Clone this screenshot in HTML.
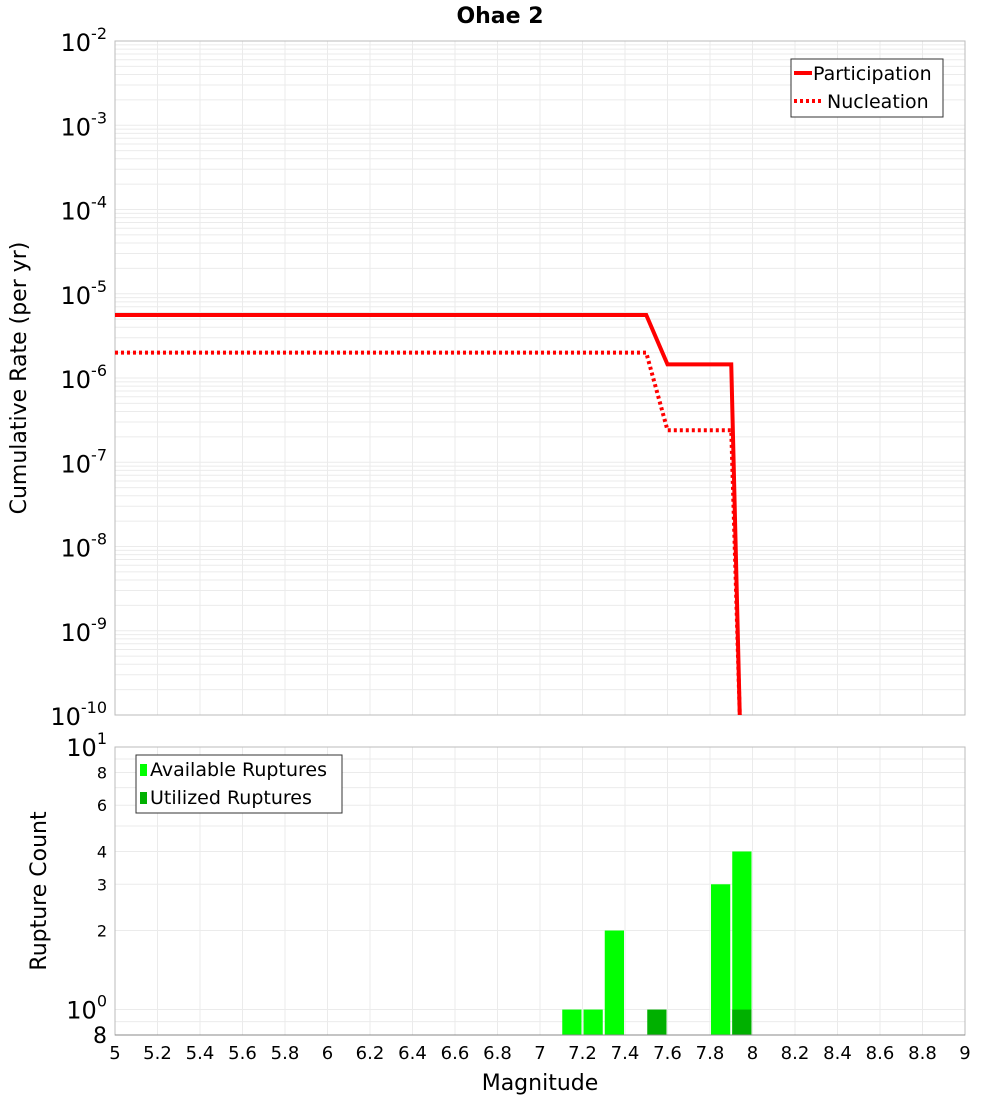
<!DOCTYPE html>
<html><head><meta charset="utf-8"><style>
body{margin:0;background:#fff;font-family:"Liberation Sans","DejaVu Sans",sans-serif}
svg text{font-family:"DejaVu Sans","Liberation Sans",sans-serif}
</style></head><body>
<svg id="c" width="1000" height="1100" xmlns="http://www.w3.org/2000/svg"></svg>
<script>
const partMags=[5.0,7.5,7.6,7.9,7.94];
const partRates=[5.6e-6,5.6e-6,1.45e-6,1.45e-6,1e-10];
const nuclMags=[5.0,7.5,7.6,7.9,7.94];
const nuclRates=[2.0e-6,2.0e-6,2.4e-7,2.4e-7,1e-10];
const binMags=[7.15,7.25,7.35,7.55,7.85,7.95];
const availCounts=[1,1,2,0,3,4];
const usedCounts=[0,0,0,1,0,1];
const xTicks=[5,5.2,5.4,5.6,5.8,6,6.2,6.4,6.6,6.8,7,7.2,7.4,7.6,7.8,8,8.2,8.4,8.6,8.8,9];
const topExps=[-10,-9,-8,-7,-6,-5,-4,-3,-2];
const botTicks=[[10,'10',true],[8,'8'],[6,'6'],[4,'4'],[3,'3'],[2,'2'],[1,'10',true],[0.8,'8']];

const svg=document.getElementById('c');
const NS='http://www.w3.org/2000/svg';
function mk(t,a,p){const e=document.createElementNS(NS,t);for(const k in a)e.setAttribute(k,a[k]);(p||svg).appendChild(e);return e;}
const L=115,R=965,T1=41,B1=715,T2=747,B2=1035;
const xs=m=>L+(m-5)/4*(R-L);
const y1=v=>T1+(-2-Math.log10(v))/8*(B1-T1);
const y2=v=>B2-(Math.log10(v)-Math.log10(0.8))/(1-Math.log10(0.8))*(B2-T2);

let t=mk('text',{x:500,y:23,'text-anchor':'middle','font-size':22,'font-weight':'bold'});
t.textContent='Ohae 2';

// grids top
const g1=mk('g',{stroke:'#ebebeb','stroke-width':1});

for(let e=-10;e<-2;e++)for(let k=1;k<10;k++){const y=y1(k*Math.pow(10,e));mk('line',{x1:L,x2:R,y1:y,y2:y},g1);}
xTicks.forEach(m=>mk('line',{x1:xs(m),x2:xs(m),y1:T1,y2:B1},g1));
let f=mk('rect',{x:L,y:T1,width:R-L,height:B1-T1,fill:'none',stroke:'#bbb'});


// top tick labels
topExps.forEach(e=>{const y=y1(Math.pow(10,e));const tx=mk('text',{x:107,y:y+10,'text-anchor':'end','font-size':24});

tx.innerHTML='10<tspan dy="-12" font-size="16">'+e+'</tspan>';});
t=mk('text',{x:26,y:378,'text-anchor':'middle','font-size':22,transform:'rotate(-90 26 378)'});
t.textContent='Cumulative Rate (per yr)';

function line(ms,vs,dash,name){const p=mk('polyline',{points:ms.map((m,i)=>xs(m)+','+Math.min(B1,y1(vs[i]))).join(' '),fill:'none',stroke:'#ff0000','stroke-width':4});
if(dash)p.setAttribute('stroke-dasharray','3,3');}
line(nuclMags,nuclRates,true,'nucleation-line');
line(partMags,partRates,false,'participation-line');

// legend top
const lg=mk('g',{});
mk('rect',{x:791,y:59,width:152,height:58,fill:'#fff',stroke:'#333'},lg);
mk('line',{x1:794,x2:812,y1:73,y2:73,stroke:'#f00','stroke-width':4},lg);
mk('line',{x1:794,x2:824,y1:101,y2:101,stroke:'#f00','stroke-width':4,'stroke-dasharray':'3,3'},lg);
t=mk('text',{x:813,y:80,'font-size':19},lg);t.textContent='Participation';
t=mk('text',{x:827,y:108,'font-size':19},lg);t.textContent='Nucleation';

// bottom grid
const g2=mk('g',{stroke:'#ebebeb','stroke-width':1});

[0.9,1,2,3,4,5,6,7,8,9].forEach(v=>{const y=y2(v);mk('line',{x1:L,x2:R,y1:y,y2:y},g2);});
xTicks.forEach(m=>mk('line',{x1:xs(m),x2:xs(m),y1:T2,y2:B2},g2));

const w=xs(0.1)-xs(0)-2;
binMags.forEach((m,i)=>{
 if(availCounts[i]>0){const r=mk('rect',{x:xs(m)-w/2,y:y2(availCounts[i]),width:w,height:B2-y2(availCounts[i]),fill:'#00ff00'});
 }
 if(usedCounts[i]>0){const r=mk('rect',{x:xs(m)-w/2,y:y2(usedCounts[i]),width:w,height:B2-y2(usedCounts[i]),fill:'#00b000'});
 }
});
f=mk('rect',{x:L,y:T2,width:R-L,height:B2-T2,fill:'none',stroke:'#bbb'});

mk('line',{x1:L,x2:R,y1:B2,y2:B2,stroke:'#888'});

botTicks.forEach(([v,s,big])=>{const y=y2(v);const tx=mk('text',{x:107,y:y+(big?9:6),'text-anchor':'end','font-size':big?24:16});

if(big)tx.innerHTML=s+'<tspan dy="-12" font-size="16">'+(v==10?1:0)+'</tspan>';else tx.textContent=s;
if(v==0.8){tx.setAttribute('font-size',22);tx.setAttribute('y',y+8);}});
t=mk('text',{x:46,y:891,'text-anchor':'middle','font-size':22,transform:'rotate(-90 46 891)'});
t.textContent='Rupture Count';

xTicks.forEach(m=>{const tx=mk('text',{x:xs(m),y:1059,'text-anchor':'middle','font-size':18});
tx.textContent=String(m);});
t=mk('text',{x:540,y:1090,'text-anchor':'middle','font-size':22});
t.textContent='Magnitude';

const lg2=mk('g',{});
mk('rect',{x:136,y:755,width:206,height:58,fill:'#fff',stroke:'#333'},lg2);
mk('rect',{x:140,y:764,width:7,height:12,fill:'#00ff00'},lg2);
mk('rect',{x:140,y:792,width:7,height:12,fill:'#00b000'},lg2);
t=mk('text',{x:150,y:776,'font-size':19},lg2);t.textContent='Available Ruptures';
t=mk('text',{x:150,y:804,'font-size':19},lg2);t.textContent='Utilized Ruptures';
</script>
</body></html>
